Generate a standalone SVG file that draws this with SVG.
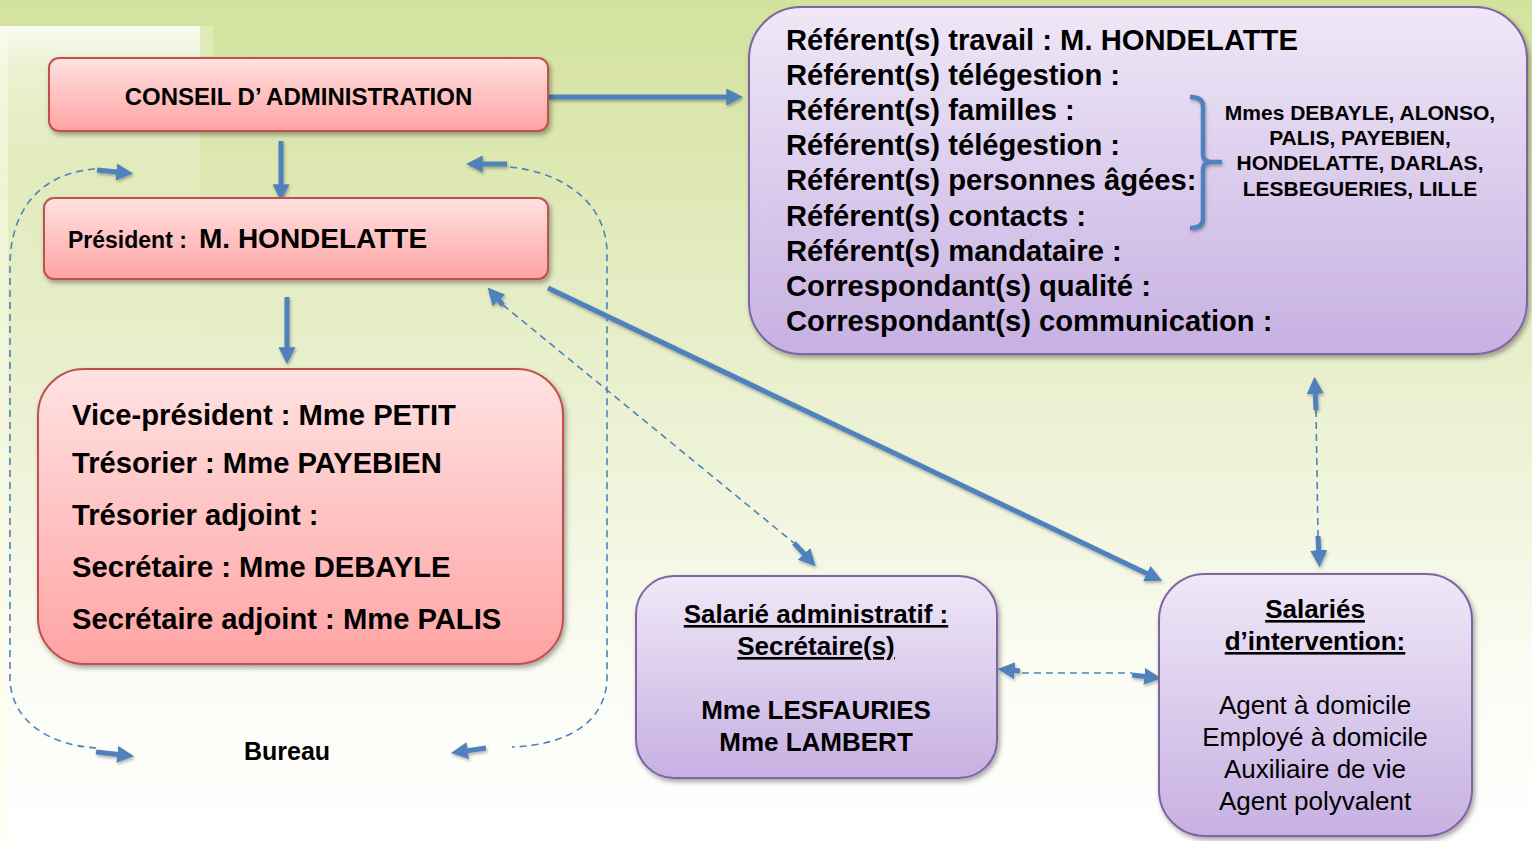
<svg xmlns="http://www.w3.org/2000/svg" width="1532" height="841" viewBox="0 0 1532 841">
  <defs>
    <linearGradient id="bg" x1="0" y1="0" x2="0" y2="1">
      <stop offset="0" stop-color="#d3e29c"/>
      <stop offset="0.3" stop-color="#e2ebbf"/>
      <stop offset="0.55" stop-color="#eef3d8"/>
      <stop offset="0.8" stop-color="#fbfcf4"/>
      <stop offset="1" stop-color="#ffffff"/>
    </linearGradient>
    <linearGradient id="panel" x1="0" y1="0" x2="0" y2="1">
      <stop offset="0" stop-color="#ffffff" stop-opacity="0.85"/>
      <stop offset="0.05" stop-color="#ffffff" stop-opacity="0.5"/>
      <stop offset="0.18" stop-color="#ffffff" stop-opacity="0.12"/>
      <stop offset="0.45" stop-color="#ffffff" stop-opacity="0"/>
    </linearGradient>
    <linearGradient id="red" x1="0" y1="0" x2="0" y2="1">
      <stop offset="0" stop-color="#ffe2e2"/>
      <stop offset="1" stop-color="#ffa3a3"/>
    </linearGradient>
    <linearGradient id="purple" x1="0" y1="0" x2="0" y2="1">
      <stop offset="0" stop-color="#efe8f7"/>
      <stop offset="1" stop-color="#c7b0e2"/>
    </linearGradient>
    <filter id="sh" x="-10%" y="-10%" width="120%" height="130%">
      <feDropShadow dx="2" dy="3" stdDeviation="2.5" flood-color="#000" flood-opacity="0.35"/>
    </filter>
    <filter id="ash" filterUnits="userSpaceOnUse" x="0" y="0" width="1532" height="841">
      <feDropShadow dx="1" dy="2" stdDeviation="1.5" flood-color="#000" flood-opacity="0.3"/>
    </filter>
    <marker id="ah" viewBox="0 0 10 10" refX="3.4" refY="5" markerWidth="17" markerHeight="17" markerUnits="userSpaceOnUse" orient="auto-start-reverse">
      <path d="M0,0 L10,5 L0,10 z" fill="#4f81bd"/>
    </marker>
    <style>
      .rbox { fill: url(#red); stroke: #c0504d; stroke-width: 2; filter: url(#sh); }
      .pbox { fill: url(#purple); stroke: #8064a2; stroke-width: 2; filter: url(#sh); }
      .t { font-family: "Liberation Sans", Arial, sans-serif; fill: #000; }
      .b { font-weight: bold; }
      .solid { stroke: #4f81bd; stroke-width: 5; fill: none; filter: url(#ash); }
      .stub { stroke: #4f81bd; stroke-width: 5; fill: none; filter: url(#ash); }
      .dash { stroke: #4f81bd; stroke-width: 1.6; fill: none; stroke-dasharray: 7 5; }
    </style>
  </defs>

  <rect x="0" y="0" width="1532" height="841" fill="url(#bg)"/>
  <rect x="0" y="26" width="200" height="815" fill="url(#panel)"/>
  <rect x="200" y="26" width="13" height="30" fill="#ffffff" opacity="0.25"/>
  <rect x="0" y="26" width="8" height="815" fill="#fdfde9" opacity="0.5"/>

  <g id="connectors">
    <line class="solid" x1="549" y1="97" x2="732" y2="97" marker-end="url(#ah)"/>
    <line class="solid" x1="281" y1="141" x2="281" y2="190" marker-end="url(#ah)"/>
    <line class="solid" x1="287" y1="297" x2="287" y2="353" marker-end="url(#ah)"/>
    <line class="solid" x1="548" y1="288" x2="1152" y2="576" marker-end="url(#ah)"/>

    <line class="dash" x1="503" y1="305" x2="794" y2="543"/>
    <line class="stub" x1="503" y1="305" x2="495" y2="296" stroke-width="2.5" marker-end="url(#ah)"/>
    <line class="stub" x1="794" y1="543" x2="808" y2="558" marker-end="url(#ah)"/>

    <line class="dash" x1="1316" y1="410" x2="1318" y2="536"/>
    <line class="stub" x1="1316" y1="410" x2="1315" y2="388" marker-end="url(#ah)"/>
    <line class="stub" x1="1318" y1="536" x2="1319" y2="556" marker-end="url(#ah)"/>

    <line class="dash" x1="1022" y1="673" x2="1132" y2="673"/>
    <line class="stub" x1="1020" y1="671" x2="1009" y2="670" marker-end="url(#ah)"/>
    <line class="stub" x1="1132" y1="675" x2="1150" y2="677" marker-end="url(#ah)"/>

    <path class="dash" d="M95,169 C50,172 12,200 10,262 L10,680 C12,722 50,745 96,748"/>
    <line class="stub" x1="97" y1="170" x2="122" y2="172.5" marker-end="url(#ah)"/>
    <line class="stub" x1="96" y1="752" x2="123" y2="755" marker-end="url(#ah)"/>

    <path class="dash" d="M510,167 C562,172 606,202 607,252 L607,680 C605,722 568,745 512,747"/>
    <line class="stub" x1="507" y1="164" x2="477" y2="164" marker-end="url(#ah)"/>
    <line class="stub" x1="486" y1="748" x2="462" y2="751.5" marker-end="url(#ah)"/>
  </g>

  <g id="conseil">
    <rect class="rbox" x="49" y="58" width="499" height="73" rx="10"/>
    <text class="t b" x="298.5" y="105" font-size="24" text-anchor="middle">CONSEIL D’ ADMINISTRATION</text>
  </g>

  <g id="president">
    <rect class="rbox" x="44" y="198" width="504" height="81" rx="10"/>
    <text class="t b" x="68" y="248" font-size="23">Président : <tspan x="199" font-size="28">M. HONDELATTE</tspan></text>
  </g>

  <g id="bureau-membres">
    <rect class="rbox" x="38" y="369" width="525" height="295" rx="46"/>
    <g class="t b" font-size="29.2">
      <text x="72" y="425">Vice-président : Mme PETIT</text>
      <text x="72" y="473">Trésorier : Mme PAYEBIEN</text>
      <text x="72" y="525">Trésorier adjoint :</text>
      <text x="72" y="577">Secrétaire : Mme DEBAYLE</text>
      <text x="72" y="629">Secrétaire adjoint : Mme PALIS</text>
    </g>
  </g>

  <g id="bureau-label">
    <text class="t b" x="287" y="760" font-size="25" text-anchor="middle">Bureau</text>
  </g>

  <g id="referents">
    <rect class="pbox" x="749" y="7" width="778" height="347" rx="52"/>
    <g class="t b" font-size="29.2">
      <text x="786" y="50">Référent(s) travail : M. HONDELATTE</text>
      <text x="786" y="85">Référent(s) télégestion :</text>
      <text x="786" y="120">Référent(s) familles :</text>
      <text x="786" y="155">Référent(s) télégestion :</text>
      <text x="786" y="190">Référent(s) personnes âgées:</text>
      <text x="786" y="226">Référent(s) contacts :</text>
      <text x="786" y="261">Référent(s) mandataire :</text>
      <text x="786" y="296">Correspondant(s) qualité :</text>
      <text x="786" y="331">Correspondant(s) communication :</text>
    </g>
    <path d="M1190,97 Q1203,97 1203,106 L1203,154 Q1203,162 1212,162 L1222,162 M1212,162 Q1203,162 1203,170 L1203,219 Q1203,228 1190,228" fill="none" stroke="#4f81bd" stroke-width="4.5" filter="url(#ash)"/>
    <g class="t b" font-size="21" text-anchor="middle">
      <text x="1360" y="120">Mmes DEBAYLE, ALONSO,</text>
      <text x="1360" y="145">PALIS, PAYEBIEN,</text>
      <text x="1360" y="170">HONDELATTE, DARLAS,</text>
      <text x="1360" y="196">LESBEGUERIES, LILLE</text>
    </g>
  </g>

  <g id="salarie-admin">
    <rect class="pbox" x="636" y="576" width="361" height="202" rx="38"/>
    <g class="t b" font-size="26" text-anchor="middle">
      <text x="816" y="623" text-decoration="underline">Salarié administratif :</text>
      <text x="816" y="655" text-decoration="underline">Secrétaire(s)</text>
      <text x="816" y="719">Mme LESFAURIES</text>
      <text x="816" y="751">Mme LAMBERT</text>
    </g>
  </g>

  <g id="salaries-intervention">
    <rect class="pbox" x="1159" y="574" width="313" height="262" rx="46"/>
    <g class="t" font-size="26" text-anchor="middle">
      <text class="b" x="1315" y="618" text-decoration="underline">Salariés</text>
      <text class="b" x="1315" y="650" text-decoration="underline">d’intervention:</text>
      <text x="1315" y="714">Agent à domicile</text>
      <text x="1315" y="746">Employé à domicile</text>
      <text x="1315" y="778">Auxiliaire de vie</text>
      <text x="1315" y="810">Agent polyvalent</text>
    </g>
  </g>
</svg>
